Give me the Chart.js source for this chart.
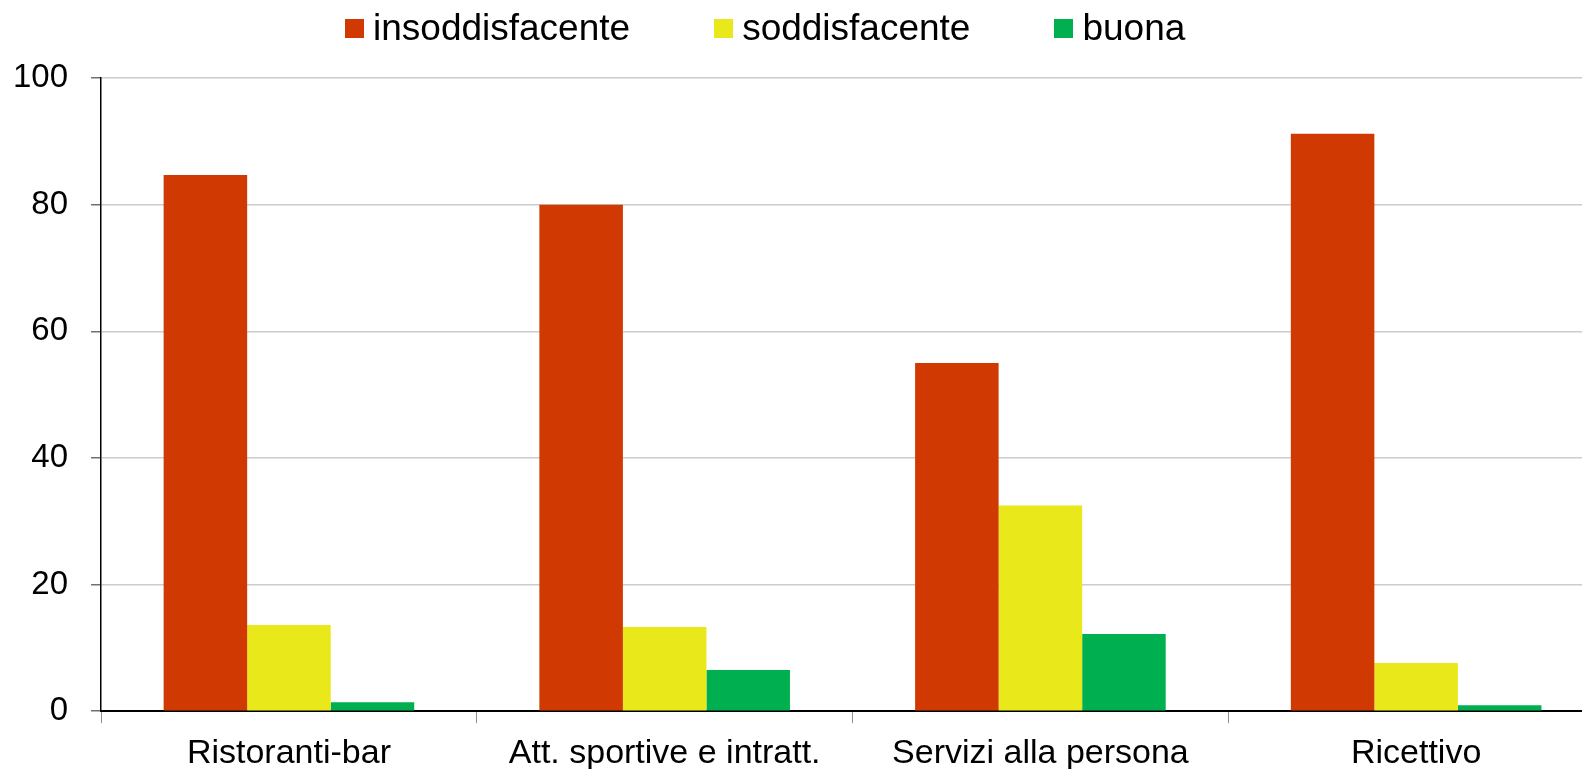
<!DOCTYPE html>
<html>
<head>
<meta charset="utf-8">
<script src="https://cdn.jsdelivr.net/npm/chart.js@4/dist/chart.umd.min.js"></script>
<style>
    html, body { margin: 0; padding: 0; background: #fff; overflow: hidden; }
    #wrap { position: relative; width: 1582px; height: 769px; overflow: hidden; }
    #chart { position: absolute; left: -22px; top: 0; }
    #legend {
        position: absolute; left: 345px; top: 8px;
        display: flex; align-items: flex-start;
        font-family: "Liberation Sans", Arial, sans-serif; font-size: 37px; line-height: 40px; color: #000;
    }
    .item { display: flex; align-items: flex-start; margin-right: 84px; }
    .box { width: 19px; height: 19px; margin-top: 11px; margin-right: 9px; }
</style>
</head>
<body>
<div id="wrap">
    <canvas id="chart"></canvas>
    <div id="legend"></div>
</div>
<script>
const categories = ["Ristoranti-bar", "Att. sportive e intratt.", "Servizi alla persona", "Ricettivo"];
const seriesNames = ["insoddisfacente", "soddisfacente", "buona"];
const insoddisfacente = [84.7, 80.0, 55.0, 91.2];
const soddisfacente = [13.6, 13.3, 32.5, 7.6];
const buona = [1.4, 6.5, 12.2, 0.95];
const colors = ["#d03a02", "#e8e81a", "#00b050"];
const yTicks = [0, 20, 40, 60, 80, 100];

document.addEventListener("DOMContentLoaded", () => {

    // ===============================
    // LEGEND (html)
    // ===============================
    const legend = document.getElementById("legend");
    seriesNames.forEach((name, i) => {
        const item = document.createElement("div");
        item.className = "item";
        const box = document.createElement("span");
        box.className = "box";
        box.style.background = colors[i];
        const label = document.createElement("span");
        label.textContent = name;
        item.appendChild(box);
        item.appendChild(label);
        legend.appendChild(item);
    });

    // ===============================
    // CHART
    // ===============================
    const canvas = document.getElementById("chart");
    canvas.width = 1628;
    canvas.height = 784;
    canvas.style.width = "1628px";
    canvas.style.height = "784px";

    const font = "'Liberation Sans', Arial, sans-serif";
    const values = [insoddisfacente, soddisfacente, buona];

    new Chart(canvas, {
        type: "bar",
        data: {
            labels: categories,
            datasets: seriesNames.map((name, i) => ({
                label: name,
                data: values[i],
                backgroundColor: colors[i],
                borderWidth: 0,
                categoryPercentage: 0.667,
                barPercentage: 1.0
            }))
        },
        options: {
            responsive: false,
            animation: false,
            layout: { padding: { top: 78, left: 12, right: 2, bottom: 0 } },
            plugins: { legend: { display: false }, tooltip: { enabled: false } },
            scales: {
                x: {
                    grid: { drawOnChartArea: false, drawTicks: true, tickLength: 12, tickColor: "#909090", offset: true },
                    border: { display: true, color: "#000", width: 2 },
                    ticks: { color: "#000", font: { family: font, size: 34 }, padding: 10, maxRotation: 0, autoSkip: false }
                },
                y: {
                    min: 0, max: 100,
                    afterBuildTicks: axis => { axis.ticks = yTicks.map(v => ({ value: v })); },
                    grid: { color: "#cccccc", lineWidth: 1.5, tickLength: 10, tickColor: "#707070" },
                    border: { display: true, color: "#000", width: 1.5 },
                    ticks: { color: "#000", font: { family: font, size: 33 }, padding: 23 }
                }
            }
        }
    });
});
</script>
</body>
</html>
